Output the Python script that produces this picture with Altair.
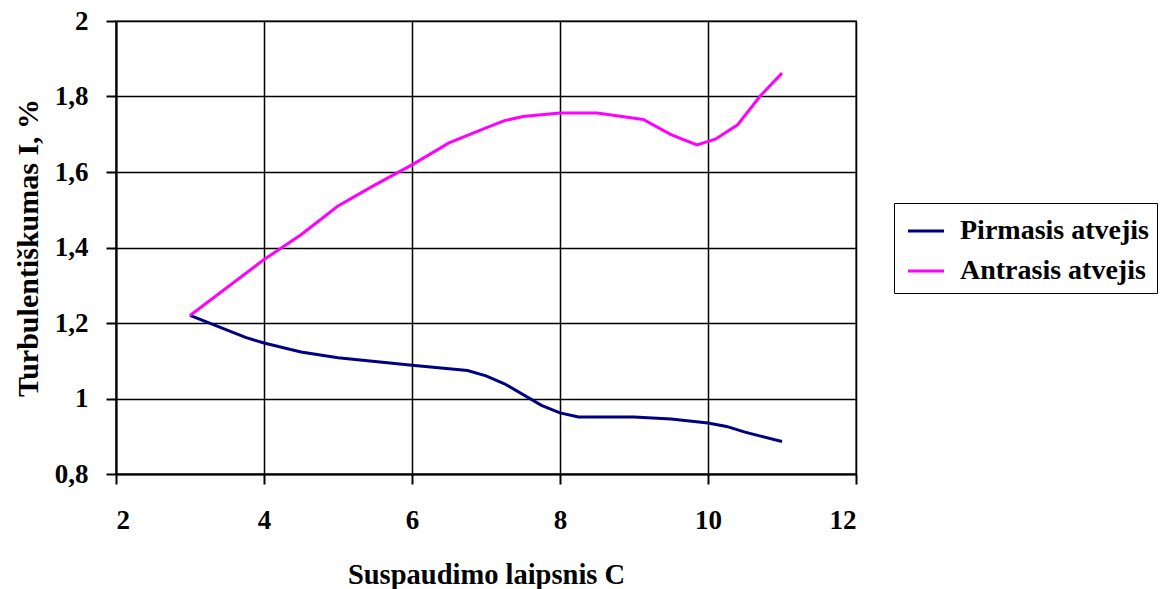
import altair as alt
import pandas as pd

# Series values
x_pirmasis = [3.0, 3.75, 4.0, 4.5, 5.0, 6.0, 6.75, 7.0, 7.25, 7.75, 8.0, 8.25, 9.0, 9.5, 10.0, 10.25, 10.5, 11.0]
y_pirmasis = [1.22, 1.162, 1.147, 1.123, 1.108, 1.088, 1.074, 1.06, 1.039, 0.982, 0.962, 0.951, 0.951, 0.946, 0.935, 0.926, 0.911, 0.886]

x_antrasis = [3.0, 4.0, 4.5, 5.0, 5.5, 6.0, 6.5, 7.0, 7.25, 7.5, 8.0, 8.5, 9.125, 9.5, 9.85, 10.1, 10.4, 10.7, 11.0]
y_antrasis = [1.22, 1.368, 1.434, 1.51, 1.566, 1.619, 1.677, 1.717, 1.736, 1.747, 1.756, 1.756, 1.739, 1.699, 1.672, 1.687, 1.725, 1.8, 1.862]

series_names = ["Pirmasis atvejis", "Antrasis atvejis"]
series_colors = ["#000080", "#FF00FF"]

x_ticks = [2, 4, 6, 8, 10, 12]
y_ticks = [0.8, 1.0, 1.2, 1.4, 1.6, 1.8, 2.0]

rows = []
for i, (xv, yv) in enumerate(zip(x_pirmasis, y_pirmasis)):
    rows.append({"C": xv, "I": yv, "serija": series_names[0], "ord": i})
for i, (xv, yv) in enumerate(zip(x_antrasis, y_antrasis)):
    rows.append({"C": xv, "I": yv, "serija": series_names[1], "ord": i})
df = pd.DataFrame(rows)

FONT = "Liberation Serif, Times New Roman, DejaVu Serif, serif"

chart = alt.Chart(df).mark_line(strokeWidth=3).encode(
    x=alt.X("C:Q",
            scale=alt.Scale(domain=[2, 12], nice=False, zero=False),
            axis=alt.Axis(values=x_ticks, title="Suspaudimo laipsnis C",
                          titleX=370, titleY=100, titleFontSize=28.5,
                          titleAlign="center", titleBaseline="middle",
                          labelPadding=23, tickSize=10)),
    y=alt.Y("I:Q",
            scale=alt.Scale(domain=[0.8, 2.0], nice=False, zero=False),
            axis=alt.Axis(values=y_ticks, title="Turbulentiškumas I, %",
                          labelExpr="replace(format(datum.value, '.2~f'), '.', ',')",
                          titleX=-88, titleY=226.5, titleAngle=270, titleFontSize=30,
                          titleAlign="center", titleBaseline="middle",
                          labelPadding=18, tickSize=10)),
    color=alt.Color("serija:N",
                    scale=alt.Scale(domain=series_names, range=series_colors),
                    sort=series_names,
                    legend=alt.Legend(title=None, orient="none",
                                      legendX=778, legendY=182)),
    order="ord:Q",
).properties(
    width=740,
    height=453,
    autosize=alt.AutoSizeParams(type="none"),
    padding={"left": 116, "top": 21, "right": 317, "bottom": 115},
).configure_view(
    stroke="#808080", strokeWidth=2
).configure_axis(
    domainColor="black", domainWidth=2,
    gridColor="black", gridWidth=1.5, gridOpacity=1,
    tickColor="black", tickWidth=2,
    labelFont=FONT, labelFontSize=27, labelFontWeight="bold", labelColor="black",
    titleFont=FONT, titleFontSize=28, titleFontWeight="bold", titleColor="black",
).configure_legend(
    labelFont=FONT, labelFontSize=28, labelFontWeight="bold", labelColor="black",
    labelLimit=400, labelOffset=14, symbolOffset=4,
    symbolType="stroke", symbolSize=1300, symbolStrokeWidth=3,
    strokeColor="black", padding=8, rowPadding=6,
    fillColor="white",
)

chart.save("out.html", embed_options={"renderer": "svg", "actions": False})
